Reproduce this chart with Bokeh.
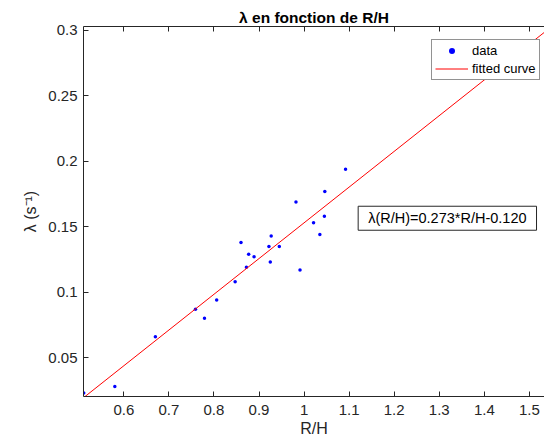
from bokeh.plotting import figure
from bokeh.models import (Range1d, LinearAxis, Label, Legend, LegendItem,
                          FixedTicker, ColumnDataSource)
from bokeh.embed import file_html
from bokeh.resources import INLINE

# ---- data ----
rh = [1.092, 0.982, 1.046, 1.021, 1.045, 1.035, 0.860, 0.927, 0.922, 0.945,
      0.877, 0.889, 0.925, 0.872, 0.991, 0.847, 0.806, 0.759, 0.779, 0.670,
      0.580, 0.511]
lam = [0.194, 0.169, 0.177, 0.153, 0.158, 0.144, 0.138, 0.143, 0.135, 0.135,
       0.129, 0.127, 0.123, 0.119, 0.117, 0.108, 0.094, 0.087, 0.080, 0.066,
       0.028, 0.023]
fit_slope = 0.273
fit_intercept = -0.120
x_ticks = [0.6, 0.7, 0.8, 0.9, 1.0, 1.1, 1.2, 1.3, 1.4, 1.5]
x_tick_labels = ["0.6", "0.7", "0.8", "0.9", "1", "1.1", "1.2", "1.3", "1.4", "1.5"]
y_ticks = [0.05, 0.1, 0.15, 0.2, 0.25, 0.3]
y_tick_labels = ["0.05", "0.1", "0.15", "0.2", "0.25", "0.3"]
x_min, x_max = 0.5105, 1.5335
y_min, y_max = 0.0203, 0.303

FONT = "Liberation Sans"
AX = "#262626"

p = figure(width=544, height=444, output_backend="svg", toolbar_location=None,
           x_range=Range1d(x_min, x_max), y_range=Range1d(y_min, y_max),
           x_axis_location=None, y_axis_location=None,
           title="λ en fonction de R/H",
           min_border_left=83, min_border_right=0, min_border_top=26,
           min_border_bottom=48)
p.outline_line_color = None
p.grid.visible = False
p.background_fill_color = "white"
p.border_fill_color = "white"

p.title.align = "center"
p.title.vertical_align = "middle"
p.title.text_font = FONT
p.title.text_font_size = "15.5px"
p.title.text_font_style = "bold"
p.title.text_color = "#000000"
p.title.standoff = 0
p.title.offset = 4

def style_axis(ax):
    ax.axis_line_color = AX
    ax.major_tick_line_color = AX
    ax.major_tick_in = 5
    ax.major_tick_out = 0
    ax.minor_tick_line_color = None
    ax.major_label_text_font = FONT
    ax.major_label_text_font_size = "15px"
    ax.major_label_text_color = AX
    ax.axis_label_text_font = FONT
    ax.axis_label_text_font_size = "16px"
    ax.axis_label_text_font_style = "normal"
    ax.axis_label_text_color = AX

xax = LinearAxis(ticker=FixedTicker(ticks=x_ticks), axis_label="R/H")
xax.major_label_overrides = dict(zip(x_ticks, x_tick_labels))
style_axis(xax)
xax.major_label_standoff = 8
xax.axis_label_standoff = 2
p.add_layout(xax, "below")

yax = LinearAxis(ticker=FixedTicker(ticks=y_ticks), axis_label="λ (s⁻¹)")
yax.major_label_overrides = dict(zip(y_ticks, y_tick_labels))
style_axis(yax)
yax.major_label_standoff = 6
yax.axis_label_standoff = 6
p.add_layout(yax, "left")

tax = LinearAxis(ticker=FixedTicker(ticks=x_ticks))
style_axis(tax)
tax.major_label_overrides = {t: "" for t in x_ticks}
tax.major_label_standoff = 0
p.add_layout(tax, "above")

src = ColumnDataSource(dict(x=rh, y=lam))
pts = p.scatter("x", "y", source=src, size=3.5, color="#0000ff", line_color=None)

fx = [x_min, x_max]
fy = [fit_slope * v + fit_intercept for v in fx]
ln = p.line(fx, fy, color="#ff0000", line_width=1)

legend = Legend(items=[LegendItem(label="data", renderers=[pts]),
                       LegendItem(label="fitted curve", renderers=[ln])],
                location=(348, 316))
legend.label_text_font = FONT
legend.label_text_font_size = "13px"
legend.label_text_color = "#000000"
legend.border_line_color = AX
legend.border_line_width = 1
legend.background_fill_color = "white"
legend.background_fill_alpha = 1
legend.glyph_width = 33
legend.glyph_height = 15
legend.spacing = 3
legend.padding = 3
legend.margin = 0
legend.label_standoff = 4
legend.label_height = 15
p.add_layout(legend, "center")

eq = Label(x=1.12, y=0.1565, text="λ(R/H)=0.273*R/H-0.120",
           text_font=FONT, text_font_size="14.5px", text_color="#000000",
           text_align="left", text_baseline="middle",
           border_line_color=AX, border_line_width=1,
           background_fill_color="white",
           padding=dict(left=10, right=10, top=4, bottom=4))
p.add_layout(eq)

open("out.html", "w").write(file_html(p, INLINE))
